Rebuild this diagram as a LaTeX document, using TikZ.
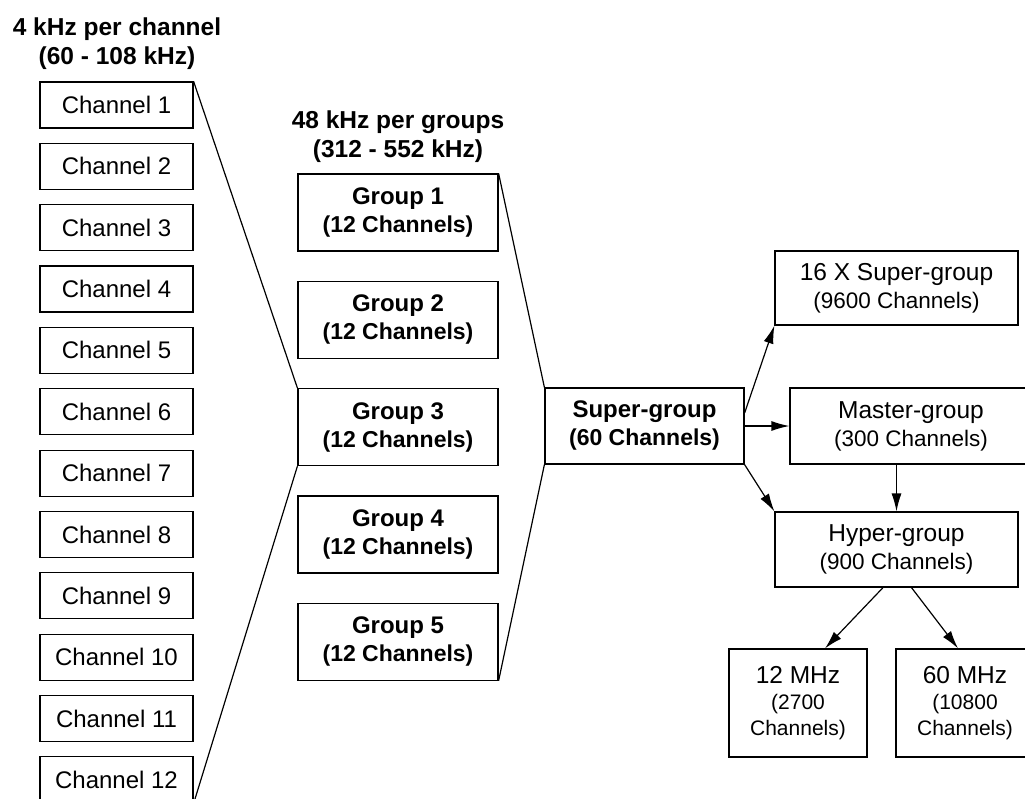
\documentclass[tikz,border=0pt]{standalone}
\usepackage{fontspec}
\setmainfont{Liberation Sans}
\usetikzlibrary{arrows.meta}
\tikzstyle{chanbox}=[draw, line width=1.2pt, minimum width=153pt, minimum height=46pt, inner sep=0pt, font=\fontsize{24}{28}\selectfont]
\tikzstyle{groupbox}=[draw, line width=1.2pt, minimum width=200pt, minimum height=77pt, inner sep=0pt, align=center, font=\bfseries\fontsize{24}{28}\selectfont]
\tikzstyle{bigbox}=[draw, line width=1.2pt, inner sep=0pt, align=center, font=\fontsize{24.5}{28}\selectfont]
\tikzstyle{head}=[inner sep=0pt, align=center, font=\bfseries\fontsize{24.5}{29}\selectfont]
\tikzstyle{arrow}=[draw, line width=1.2pt, -{Latex[length=18pt,width=10pt]}]
\newcommand{\subline}[1]{{\fontsize{22.5}{28}\selectfont #1}}
\newcommand{\tinyline}[1]{{\fontsize{21}{25}\selectfont #1}}

\begin{document}
\begin{tikzpicture}[x=1pt,y=-1pt]
\useasboundingbox (0,0) rectangle (1025,798);
\clip (0,0) rectangle (1025,798);
\fill[white] (0,0) rectangle (1025,798);
% headers
\node[head] (chanhead) at (117,44) {4 kHz per channel\\(60 - 108 kHz)};
\node[head] (grouphead) at (398,137) {48 kHz per groups\\(312 - 552 kHz)};
% channels
\foreach \i in {1,...,12}
\node[chanbox] (ch\i) at (116.5, {105+61.35*(\i-1)}) {Channel \i};
% groups
\foreach \i in {1,...,5}
\node[groupbox] (g\i) at (398, {212.5+107.3*(\i-1)}) {Group \i\\{\fontsize{23}{28}\selectfont (12 Channels)}};
\node[groupbox, minimum width=199pt, minimum height=76pt] (sg) at (644.5,426) {Super-group\\{\fontsize{23}{28}\selectfont (60 Channels)}};
% higher levels
\node[bigbox, minimum width=243pt, minimum height=74pt] (sup16) at (896.5,288) {16 X Super-group\\\subline{(9600 Channels)}};
\node[bigbox, minimum width=242pt, minimum height=76pt] (master) at (911,426) {Master-group\\\subline{(300 Channels)}};
\node[bigbox, minimum width=243pt, minimum height=75pt] (hyper) at (896.5,549.5) {Hyper-group\\\subline{(900 Channels)}};
\node[bigbox, minimum width=138pt, minimum height=108pt, font=\fontsize{24.5}{26}\selectfont] (mhz12) at (798,703) {12 MHz\\\tinyline{(2700}\\\tinyline{Channels)}};
\node[bigbox, minimum width=138pt, minimum height=108pt, font=\fontsize{24.5}{26}\selectfont] (mhz60) at (965,703) {60 MHz\\\tinyline{(10800}\\\tinyline{Channels)}};
% fan-in lines
\draw[line width=1.2pt] (ch1.north east) -- (g3.north west);
\draw[line width=1.2pt] (ch12.south east) -- (g3.south west);
\draw[line width=1.2pt] (g1.north east) -- (sg.north west);
\draw[line width=1.2pt] (g5.south east) -- (sg.south west);
% arrows
\path[arrow] ([yshift=13pt]sg.east) -- (sup16.south west);
\path[arrow] (sg.east) -- (master.west);
\path[arrow] (sg.south east) -- (hyper.north west);
\path[arrow] (hyper.north |- master.south) -- (hyper.north);
\path[arrow] ([xshift=-13.5pt]hyper.south) -- ([xshift=27pt]mhz12.north);
\path[arrow] ([xshift=15pt]hyper.south) -- ([xshift=-7pt]mhz60.north);
\end{tikzpicture}
\end{document}
